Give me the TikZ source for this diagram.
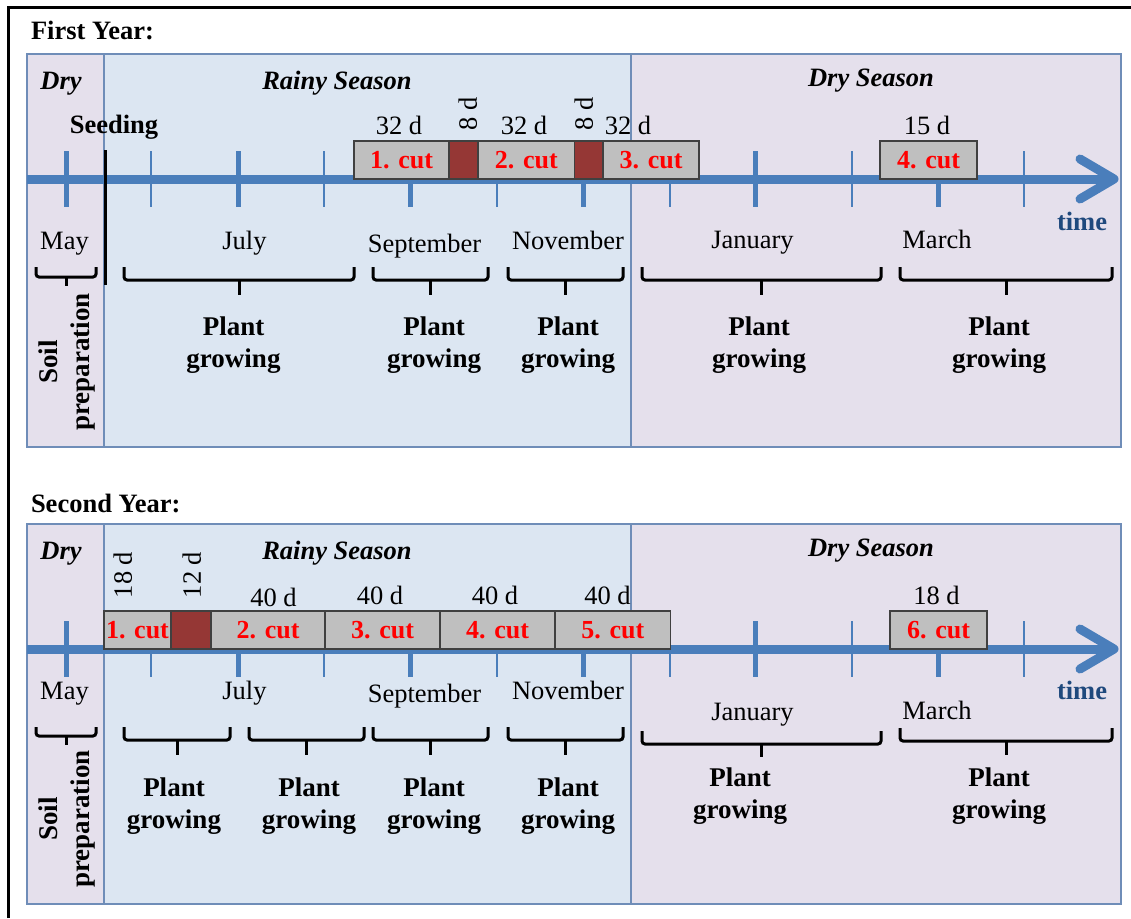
\documentclass[tikz,border=0pt]{standalone}
\usepackage{fontspec}
\setmainfont{Liberation Serif}
\definecolor{rainyfill}{HTML}{DCE6F2}
\definecolor{dryfill}{HTML}{E5E0EC}
\definecolor{panelline}{HTML}{6F8DB8}
\definecolor{axisblue}{HTML}{4A7EBB}
\definecolor{timeblue}{HTML}{1F497D}
\definecolor{cutgray}{HTML}{BFBFBF}
\definecolor{pausered}{HTML}{953735}
\definecolor{boxline}{HTML}{404040}
% one curly bracket under a month span: x1, x2, end y, bar y, tip y
\newcommand\spanbrace[5]{%
  \draw[bracestyle] (#1,#3) -- (#1,#4) -- (#2,#4) -- (#2,#3);
  \draw[bracestyle] ({(#1+#2)/2},#4) -- ({(#1+#2)/2},#5);}
\begin{document}
\begin{tikzpicture}[x=1pt,y=-1pt,
  every node/.style={inner sep=0pt, outer sep=0pt},
  lbl/.style={font=\fontsize{26.5}{31}\selectfont},
  blbl/.style={font=\bfseries\fontsize{26.5}{31}\selectfont},
  season/.style={font=\bfseries\itshape\fontsize{26.5}{31}\selectfont, anchor=base},
  title/.style={blbl, anchor=base west},
  month/.style={lbl, anchor=base},
  dur/.style={lbl, anchor=base},
  vdur/.style={lbl, rotate=90, text height=17.5pt, text depth=0pt},
  plantlbl/.style={font=\bfseries\fontsize{27}{32}\selectfont, align=center},
  timelbl/.style={blbl, text=timeblue, anchor=base},
  panel/.style={draw=panelline, line width=1.2pt},
  axis/.style={draw=axisblue, line width=9pt},
  axishead/.style={axis, line cap=round, line join=round},
  majtick/.style={draw=axisblue, line width=5pt},
  mintick/.style={draw=axisblue, line width=2.5pt},
  cutbox/.style={draw=boxline, fill=cutgray, line width=1.3pt, minimum height=38pt,
    font=\bfseries\fontsize{26}{30}\selectfont, text=red},
  pausebox/.style={draw=boxline, fill=pausered, line width=1.3pt, minimum height=38pt},
  bracestyle/.style={draw=black, line width=3pt, rounded corners=3pt},
  seedline/.style={draw=black, line width=3pt}]
\useasboundingbox (0,0) rectangle (1131,918);
\fill[white] (0,0) rectangle (1131,918);
% outer frame (top and left edges)
\draw[line width=3pt] (8.5,918) -- (8.5,7.5) -- (1131,7.5);

% ---------------- first year ----------------
\node[title] (title1) at (31,39) {First Year:};
\fill[dryfill] (27,54) rectangle (104,447);
\fill[rainyfill] (104,54) rectangle (631,447);
\fill[dryfill] (631,54) rectangle (1121,447);
\draw[panel] (27,54) rectangle (1121,447);
\draw[panel] (104,54) -- (104,447);
\draw[panel] (631,54) -- (631,447);

\node[season] (dry1) at (61,89) {Dry};
\node[season] (rainy1) at (337,89) {Rainy Season};
\node[season] (dryseason1) at (871,86) {Dry Season};
\node[blbl, anchor=base] (seeding) at (114,133) {Seeding};

\draw[axis] (27,179) -- (1112,179);
\draw[axishead] (1080,159) -- (1114,179) -- (1080,199);
\foreach \x in {66,238,410,583,755,938} \draw[majtick] (\x,151) -- (\x,207);
\foreach \x in {151,324,497,670,852,1024} \draw[mintick] (\x,151) -- (\x,207);
\draw[seedline] (105,150) -- (105,285);

\node[cutbox, minimum width=95pt] (cutA1) at (401.5,160) {1. cut};
\node[pausebox, minimum width=29pt] (pauseA1) at (463.5,160) {};
\node[cutbox, minimum width=96.5pt] (cutA2) at (526.25,160) {2. cut};
\node[pausebox, minimum width=28.5pt] (pauseA2) at (588.75,160) {};
\node[cutbox, minimum width=96pt] (cutA3) at (651,160) {3. cut};
\node[cutbox, minimum width=97pt] (cutA4) at (928.5,160) {4. cut};

\node[dur] (durA1) at (399,134.5) {32 d};
\node[vdur] (gapA1) at (468,114) {8 d};
\node[dur] (durA2) at (524,134.5) {32 d};
\node[vdur] (gapA2) at (584,114) {8 d};
\node[dur] (durA3) at (628,134.5) {32 d};
\node[dur] (durA4) at (927,134.5) {15 d};

\node[timelbl] (time1) at (1082,230) {time};

\node[month] (mayA) at (64.5,249) {May};
\node[month] (julA) at (244.5,249) {July};
\node[month] (sepA) at (424.5,252) {September};
\node[month] (novA) at (568,249) {November};
\node[month] (janA) at (752.5,248) {January};
\node[month] (marA) at (937,248) {March};

\spanbrace{36}{96}{267}{277}{286}
\spanbrace{124}{354}{267}{280}{295}
\spanbrace{373}{488}{267}{280}{295}
\spanbrace{508}{623}{267}{280}{295}
\spanbrace{642}{881}{267}{280}{295}
\spanbrace{900}{1112}{267}{280}{295}

\node[plantlbl, rotate=90] (soilA) at (67,362) {Soil\\preparation};
\node[plantlbl] (growA1) at (233.5,345) {Plant\\growing};
\node[plantlbl] (growA2) at (434,345) {Plant\\growing};
\node[plantlbl] (growA3) at (568,345) {Plant\\growing};
\node[plantlbl] (growA4) at (759,345) {Plant\\growing};
\node[plantlbl] (growA5) at (999,345) {Plant\\growing};

% ---------------- second year ----------------
\node[title] (title2) at (31,512) {Second Year:};
\fill[dryfill] (27,524) rectangle (104,904);
\fill[rainyfill] (104,524) rectangle (631,904);
\fill[dryfill] (631,524) rectangle (1121,904);
\draw[panel] (27,524) rectangle (1121,904);
\draw[panel] (104,524) -- (104,904);
\draw[panel] (631,524) -- (631,904);

\node[season] (dry2) at (61,559) {Dry};
\node[season] (rainy2) at (337,559) {Rainy Season};
\node[season] (dryseason2) at (871,556) {Dry Season};

\draw[axis] (27,649) -- (1112,649);
\draw[axishead] (1080,629) -- (1114,649) -- (1080,669);
\foreach \x in {66,238,410,583,755,938} \draw[majtick] (\x,621) -- (\x,677);
\foreach \x in {151,324,497,670,852,1024} \draw[mintick] (\x,621) -- (\x,677);

\node[cutbox, minimum width=67pt] (cutB1) at (137.5,630) {1. cut};
\node[pausebox, minimum width=40pt] (pauseB1) at (191,630) {};
\node[cutbox, minimum width=114pt] (cutB2) at (268,630) {2. cut};
\node[cutbox, minimum width=115pt] (cutB3) at (382.5,630) {3. cut};
\node[cutbox, minimum width=115pt] (cutB4) at (497.5,630) {4. cut};
\node[cutbox, minimum width=115.5pt] (cutB5) at (612.75,630) {5. cut};
\node[cutbox, minimum width=97pt] (cutB6) at (938.5,630) {6. cut};

\node[vdur] (durB1) at (123,575) {18 d};
\node[vdur] (gapB1) at (192,575) {12 d};
\node[dur] (durB2) at (273.5,606) {40 d};
\node[dur] (durB3) at (380,604) {40 d};
\node[dur] (durB4) at (495,604) {40 d};
\node[dur] (durB5) at (607.5,604) {40 d};
\node[dur] (durB6) at (936.5,604) {18 d};

\node[timelbl] (time2) at (1082,699) {time};

\node[month] (mayB) at (64.5,699) {May};
\node[month] (julB) at (244.5,699) {July};
\node[month] (sepB) at (424.5,702) {September};
\node[month] (novB) at (568,699) {November};
\node[month] (janB) at (752.5,720) {January};
\node[month] (marB) at (937,719) {March};

\spanbrace{36}{96}{727}{736}{745}
\spanbrace{124}{230}{727}{740}{755}
\spanbrace{249}{364}{727}{740}{755}
\spanbrace{373}{488}{727}{740}{755}
\spanbrace{508}{623}{727}{740}{755}
\spanbrace{642}{881}{731}{744}{757}
\spanbrace{900}{1112}{728}{741}{755}

\node[plantlbl, rotate=90] (soilB) at (67,819) {Soil\\preparation};
\node[plantlbl] (growB1) at (174,806) {Plant\\growing};
\node[plantlbl] (growB2) at (309,806) {Plant\\growing};
\node[plantlbl] (growB3) at (434,806) {Plant\\growing};
\node[plantlbl] (growB4) at (568,806) {Plant\\growing};
\node[plantlbl] (growB5) at (740,796) {Plant\\growing};
\node[plantlbl] (growB6) at (999,796) {Plant\\growing};
\end{tikzpicture}
\end{document}
